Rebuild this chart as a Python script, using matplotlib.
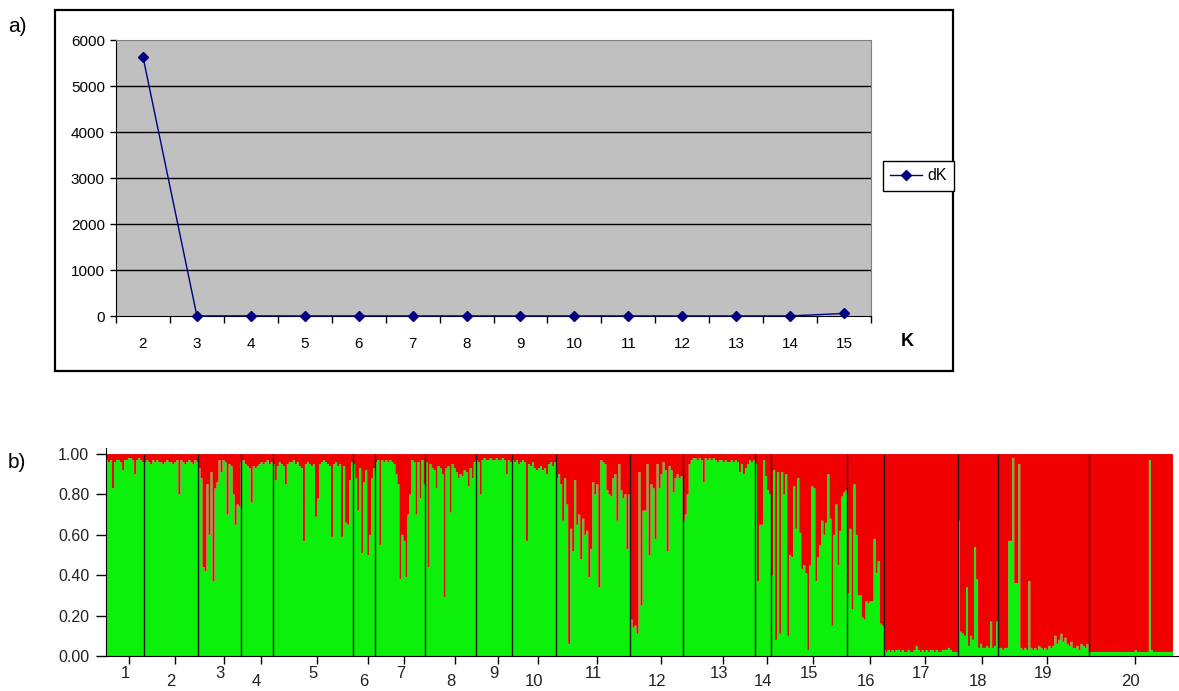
import numpy as np
import matplotlib
matplotlib.use("Agg")
import matplotlib.pyplot as plt
from matplotlib.patches import Rectangle

plt.rcParams["font.family"] = ["Liberation Sans", "DejaVu Sans"]
NARROW = ["Liberation Sans Narrow", "Liberation Sans", "DejaVu Sans"]

# --- panel a: Evanno delta K ---
k_values = [2, 3, 4, 5, 6, 7, 8, 9, 10, 11, 12, 13, 14, 15]
dk_values = [5637, 2, 3, 1, 2, 1, 2, 1, 1, 2, 1, 1, 2, 55]

# --- panel b: STRUCTURE membership (share of green cluster, %) per population ---
pop01 = [97, 96, 97, 83, 96, 97, 97, 96, 92, 97, 97, 98, 98, 97, 90, 97, 98, 97, 96]
pop02 = [96, 97, 96, 95, 97, 96, 97, 96, 96, 95, 96, 97, 96, 96, 95, 96, 97, 80, 97, 96,
         95, 96, 97, 96, 95, 97, 96]
pop03 = [93, 88, 44, 42, 85, 60, 91, 37, 83, 86, 97, 91, 97, 96, 70, 95, 94, 80, 65, 75, 74]
pop04 = [96, 97, 95, 94, 93, 76, 94, 93, 94, 95, 96, 95, 96, 97, 95, 96]
pop05 = [95, 87, 94, 96, 95, 94, 85, 95, 96, 96, 97, 95, 96, 94, 93, 57, 95, 96, 95, 94,
         95, 69, 78, 95, 96, 97, 96, 95, 94, 59, 95, 96, 94, 95, 59, 94, 66, 65, 87, 96]
pop06 = [95, 88, 72, 93, 51, 86, 92, 50, 60, 88, 93]
pop07 = [96, 97, 55, 97, 96, 97, 96, 97, 96, 95, 90, 85, 38, 60, 57, 39, 70, 80, 97, 96,
         70, 96, 78, 97, 85]
pop08 = [96, 44, 95, 93, 92, 83, 94, 93, 90, 29, 93, 94, 71, 95, 93, 91, 88, 90, 89, 92,
         91, 84, 93, 88, 96]
pop09 = [97, 96, 80, 97, 98, 97, 97, 98, 97, 97, 98, 97, 97, 98, 97, 90, 97, 96]
pop10 = [97, 96, 97, 95, 96, 97, 96, 57, 95, 94, 96, 93, 92, 93, 94, 92, 93, 90, 95, 96,
         94, 96]
pop11 = [88, 90, 85, 67, 88, 75, 6, 63, 52, 87, 65, 70, 48, 68, 60, 62, 39, 53, 86, 80,
         85, 34, 97, 96, 95, 82, 80, 79, 88, 90, 67, 95, 82, 78, 80, 53, 80]
pop12 = [18, 14, 15, 11, 91, 25, 72, 72, 95, 50, 85, 83, 58, 95, 83, 90, 96, 92, 52, 94,
         92, 81, 88, 90, 88, 89]
pop13 = [67, 70, 80, 95, 97, 98, 98, 97, 98, 97, 86, 98, 97, 98, 97, 98, 97, 96, 97, 97,
         96, 97, 96, 96, 97, 96, 97, 96, 91, 95, 90, 93, 95, 97, 96, 97]
pop14 = [95, 37, 65, 65, 97, 89, 82, 80]
pop15 = [40, 92, 8, 91, 11, 91, 80, 90, 10, 50, 49, 84, 63, 88, 61, 43, 45, 41, 3, 45,
         84, 83, 37, 49, 55, 67, 60, 66, 90, 68, 15, 60, 75, 45, 62, 79, 81, 82]
pop16 = [31, 63, 23, 85, 60, 30, 30, 19, 18, 27, 26, 27, 27, 58, 41, 47, 16, 15]
pop17 = [3, 2, 3, 2, 3, 2, 3, 3, 2, 3, 2, 2, 3, 2, 2, 3, 5, 3, 2, 3,
         2, 3, 2, 3, 3, 2, 3, 2, 2, 3, 3, 3, 4, 3, 2, 2, 2]
pop18 = [67, 12, 11, 10, 34, 5, 10, 8, 54, 38, 4, 6, 4, 4, 5, 4, 17, 4, 5, 17]
pop19 = [4, 4, 3, 4, 4, 57, 57, 98, 36, 36, 95, 4, 3, 4, 3, 37, 4, 3, 4, 3,
         5, 4, 3, 4, 3, 5, 4, 5, 10, 6, 8, 11, 7, 9, 6, 5, 7, 4, 4, 5,
         3, 6, 5, 4, 6]
pop20 = [2, 2, 2, 2, 2, 2, 2, 2, 2, 2, 2, 2, 2, 2, 2, 2, 2, 2, 2, 2,
         2, 2, 2, 3, 2, 2, 2, 2, 2, 2, 97, 3, 2, 2, 2, 2, 2, 2, 2, 2,
         2, 2]
populations = [pop01, pop02, pop03, pop04, pop05, pop06, pop07, pop08, pop09, pop10,
               pop11, pop12, pop13, pop14, pop15, pop16, pop17, pop18, pop19, pop20]
pop_labels = [str(i) for i in range(1, 21)]

GREEN = "#0cf00c"
RED = "#f00000"
NAVY = "#000080"

W, H = 1179, 691
fig = plt.figure(figsize=(W / 100, H / 100), dpi=100)


def px_axes(left, top, right, bottom):
    # axes placed by pixel box of the reference layout
    return fig.add_axes([left / W, 1 - bottom / H, (right - left) / W, (bottom - top) / H])


# ---------------- panel a ----------------
fig.patches.append(Rectangle((55 / W, 1 - 371 / H), (953 - 55) / W, (371 - 10) / H,
                             transform=fig.transFigure, fill=False,
                             edgecolor="black", linewidth=1.6))

ax = px_axes(116, 40, 871, 316)
ax.set_facecolor("#c0c0c0")
for y in range(1000, 6000, 1000):
    ax.axhline(y, color="black", linewidth=1.0, zorder=1)
ax.plot(k_values, dk_values, color=NAVY, linewidth=1.0, marker="D", markersize=5.5,
        label="dK", zorder=3, clip_on=False)
ax.set_xlim(1.5, 15.5)
ax.set_ylim(0, 6000)
ax.set_yticks(range(0, 6001, 1000))
ax.set_xticks(k_values)
ax.set_xticks(np.arange(1.5, 15.6, 1.0), minor=True)
ax.tick_params(axis="x", which="major", length=0, pad=15, labelsize=11)
ax.tick_params(axis="x", which="minor", length=5, width=1, color="black")
ax.tick_params(axis="y", length=4, width=1, pad=4, labelsize=11)
for side in ["top", "right"]:
    ax.spines[side].set_color("#808080")
for side in ["left", "bottom"]:
    ax.spines[side].set_color("black")

fig.legend(loc="center left", bbox_to_anchor=(883 / W, 1 - 176 / H), frameon=True,
           fancybox=False, edgecolor="black", framealpha=1, fontsize=11.5,
           handlelength=2.0, handletextpad=0.3, borderpad=0.45, borderaxespad=0)
fig.text(901 / W, 1 - 341 / H, "K", fontsize=13, fontweight="bold", va="center")
fig.text(8 / W, 1 - 26 / H, "a)", fontsize=15, va="center")
fig.text(8 / W, 1 - 463 / H, "b)", fontsize=15, va="center")

# ---------------- panel b ----------------
q = np.concatenate([np.array(p, dtype=float) for p in populations]) / 100.0
n = len(q)
edges = np.arange(n + 1)
counts = [len(p) for p in populations]
bounds = np.concatenate([[0], np.cumsum(counts)])

axb = px_axes(106, 448, 1179, 656)
axb.stairs(q, edges, baseline=0, fill=True, color=GREEN, linewidth=0)
axb.stairs(np.ones(n), edges, baseline=q, fill=True, color=RED, linewidth=0)
axb.vlines(bounds[1:-1], 0, 1, color="#1a1a1a", linewidth=1.0)
axb.set_xlim(0, n + 3)
axb.set_ylim(0, 1.03)
axb.set_yticks(np.arange(0, 1.01, 0.2))
axb.set_yticklabels(["%.2f" % v for v in np.arange(0, 1.01, 0.2)], family=NARROW,
                    fontsize=11.5, color="#222222")
axb.tick_params(axis="y", length=7, width=1, pad=5)

centers = (bounds[:-1] + bounds[1:]) / 2.0
axb.set_xticks(centers + 2)
axb.set_xticklabels([])
axb.tick_params(axis="x", length=6, width=1)
for i, (c, lab) in enumerate(zip(centers, pop_labels)):
    yoff = -0.084 if i % 2 == 0 else -0.125
    axb.text(c, yoff, lab, transform=axb.get_xaxis_transform(), ha="center", va="center",
             family=NARROW, fontsize=12, color="#222222")
for side in ["top", "right"]:
    axb.spines[side].set_visible(False)

fig.savefig("out.png", dpi=100)
